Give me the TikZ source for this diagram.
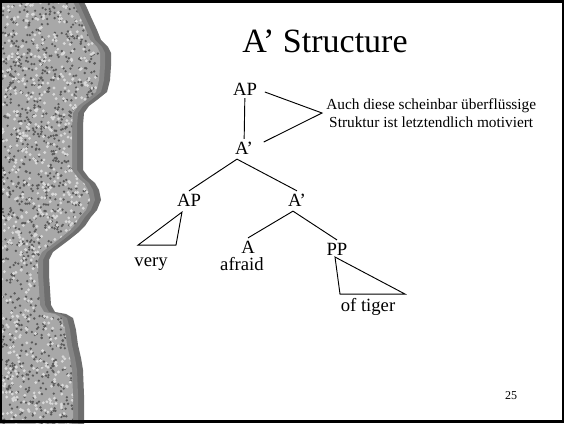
\documentclass[tikz,border=0pt]{standalone}
\usepackage{fontspec}
\setmainfont{Liberation Serif}
\usepackage{xcolor}
\usetikzlibrary{calc}

\definecolor{stonebase}{HTML}{A8A8A8}
\definecolor{stonedark}{HTML}{5A5A5A}
\definecolor{stonelight}{HTML}{D8D8D8}
\definecolor{stonefringe}{HTML}{858585}
\definecolor{stoneshadow}{HTML}{6E6E6E}

% torn stone edge on the left of the slide
\newcommand{\stoneedge}{(0,0) -- (72,0) -- (76,8) -- (80,17) -- (86,30) -- (90,40)
    -- (97,47) -- (100,53) -- (100,66) -- (99,80) -- (96,92) -- (86,100) -- (78,106)
    -- (73,113) -- (72,125) -- (72,170) -- (78,178) -- (84,183) -- (88,190) -- (90,200)
    -- (86,210) -- (80,217) -- (74,226) -- (68,232) -- (58,240) -- (50,246) -- (42,252)
    -- (38,260) -- (38,275) -- (39,290) -- (40,305) -- (44,312) -- (55,314) -- (62,318)
    -- (65,330) -- (67,345) -- (70,358) -- (72,370) -- (73,395) -- (73,424) -- (0,424) -- cycle}

\begin{document}
\begin{tikzpicture}[
    x=0.75pt, y=-0.75pt,
    title/.style={
        font=\fontsize{25.5}{30}\selectfont,
        inner sep=0pt
    },
    cat/.style={
        font=\fontsize{14}{16}\selectfont,
        inner sep=2pt
    },
    word/.style={
        font=\fontsize{14}{16}\selectfont,
        inner sep=1pt
    },
    note/.style={
        font=\fontsize{11.5}{13.5}\selectfont,
        align=center,
        inner sep=3pt
    },
    branch/.style={
        draw=black,
        line width=0.7pt
    },
    pagenum/.style={
        font=\fontsize{9}{10}\selectfont,
        inner sep=0pt
    }
]
\useasboundingbox (0,0) rectangle (565,424);
\fill[white] (0,0) rectangle (565,424);

% =========================================================
% Stone edge
% =========================================================
\fill[stoneshadow, shift={(11,0)}] \stoneedge;
\fill[stonefringe, shift={(5,0)}] \stoneedge;
\begin{scope}
    \clip \stoneedge;
    \fill[stonebase] (0,0) rectangle (110,424);
    \pgfmathsetseed{17}
    \foreach \i in {1,...,1400}{
        \fill[stonedark] ({rnd*105},{rnd*424}) circle (1.3);
    }
    \foreach \i in {1,...,900}{
        \fill[stonelight] ({rnd*105},{rnd*424}) circle (1.6);
    }
\end{scope}

% =========================================================
% Title
% =========================================================
\node[title] (title) at (325,41) {A’ Structure};

% =========================================================
% Tree
% =========================================================
\node[cat] (ap1) at (245,89) {AP};
\node[cat] (abar1) at (244,148) {A’};
\node[cat] (ap2) at (189,200) {AP};
\node[cat] (abar2) at (297,200) {A’};
\node[cat] (a) at (248,247) {A};
\node[cat] (pp) at (337,249) {PP};

\node[word] (very) at (151,264) {very};
\node[word] (afraid) at (242,264) {afraid};
\node[word] (oftiger) at (368,307) {of tiger};

\draw[branch] (ap1) -- (abar1);
\draw[branch] ([shift={(-7,2)}]abar1.south) -- (ap2.north);
\draw[branch] ([shift={(-7,2)}]abar1.south) -- (abar2.north);
\draw[branch] ([shift={(-4,2)}]abar2.south) -- (a.north);
\draw[branch] ([shift={(-4,2)}]abar2.south) -- (pp.north);

% triangles
\draw[branch] (ap2.south) ++(-7,3) -- ++(-44,33) -- ++(38,0) -- cycle;
\draw[branch] (pp.south) ++(-2,-1) -- ++(5,37) -- ++(65,0) -- cycle;

% =========================================================
% Annotation
% =========================================================
\coordinate (tip) at (322,113);
\node[note, anchor=west] (comment) at (tip)
{Auch diese scheinbar überflüssige\\Struktur ist letztendlich motiviert};

\draw[branch] ([shift={(5,3)}]ap1.east) -- (tip) -- ([shift={(8,-6)}]abar1.east);

% =========================================================
% Page number and frame
% =========================================================
\node[pagenum] (page) at (511,396) {25};

\draw[line width=1.9pt] (1.2,1.5) rectangle (563,421.5);

\end{tikzpicture}
\end{document}
